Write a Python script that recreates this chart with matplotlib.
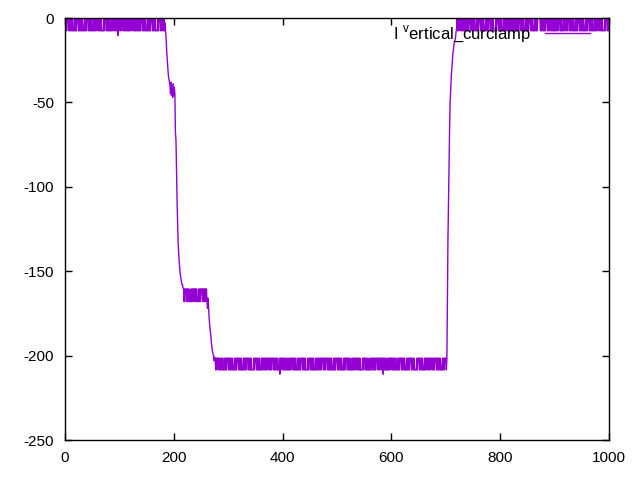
import numpy as np
import matplotlib
matplotlib.use("Agg")
import matplotlib.pyplot as plt

plt.rcParams['font.family'] = ['Liberation Sans', 'DejaVu Sans']
plt.rcParams['axes.unicode_minus'] = False

# ---- data ----
# noise patterns: each char is one sample, index into the level list
top_pattern = ("0101000101 0101011101 0100010101 0101110101 0001010101 "
               "1101010100 0101010111 1010001010 1011101010 0101010210 "
               "0101000101 0101011101 0100010101 0101110101 0001010101 "
               "1101010100 0101010111 1010001010 0101")
top_levels = [0.0, -7.6, -10.5]

drop1_values = [-3, -8, -13, -20, -25, -30, -34, -36, -38]
step_values = [-40, -45, -38, -46, -42, -47, -39, -46, -41, -45]
drop2_values = [-68, -72, -92, -108, -122, -133, -140, -145, -149, -152,
                -154, -156, -158, -158, -160]

mid_pattern = ("0100010101 0111010100 0101011101 0100010101 01012")
mid_levels = [-160.5, -168.0, -172.0]

drop3_values = [-166, -172, -178, -182, -185, -188, -192, -195, -197, -199,
                -200, -203, -201]

bottom_pattern = ("0101000101 0101011101 0100010101 0101110101 0001010101 "
                  "1101010100 0101010111 1010001010 1011101010 0101010001 "
                  "0101000101 0101011102 0100010101 0101110101 0001010101 "
                  "1101010100 0101010111 1010001010 1011101010 0101010001 "
                  "0101000101 0101011101 0100010101 0101110101 0001010101 "
                  "1101010100 0101010111 1010001010 1011101010 0101010001 "
                  "0100010102 0101011101 0100010101 0101110101 0001010101 "
                  "1101010100 0101010111 1010001010 1011101010 0101010001 "
                  "0101000101 0101011101 0100010")
bottom_levels = [-201.5, -208.5, -211.0]

rise_values = [-167, -130, -108, -85, -65, -50, -42, -35, -30, -25,
               -21, -19, -16, -14, -13, -11, -8, -6]

final_pattern = ("0101000101 0101011101 0100010101 0101110101 0001010101 "
                 "1101010100 0101010111 1010001010 1011101010 0101010001 "
                 "0101011101 0101000101 0101110101 0100010101 1101010100 "
                 "0001010101 1010001010 0101010111 0101010001 1011101010 "
                 "0101000101 0101011101 0100010101 0101110101 0001010101 "
                 "1101010100 0101010111 1010001010")
final_levels = [0.0, -7.6, -10.0]

legend_label = r"I $^\mathregular{v}$ertical_curclamp"
x_ticks = [0, 200, 400, 600, 800, 1000]
y_ticks = [0, -50, -100, -150, -200, -250]


def decode(pattern, lv):
    return [lv[int(c)] for c in pattern.replace(" ", "")]


y = (decode(top_pattern, top_levels) + drop1_values + step_values
     + drop2_values + decode(mid_pattern, mid_levels) + drop3_values
     + decode(bottom_pattern, bottom_levels) + rise_values
     + decode(final_pattern, final_levels))
x = np.arange(len(y))

# ---- figure ----
fig = plt.figure(figsize=(6.4, 4.8), dpi=100)
ax = fig.add_axes([65 / 640, 40 / 480, 544 / 640, 422 / 480])
color = '#9400D3'
ax.plot(x, y, color=color, lw=1.0)

ax.set_xlim(0, 1000)
ax.set_ylim(-250, 0)
ax.set_xticks(x_ticks)
ax.set_yticks(y_ticks)
ax.tick_params(direction='in', top=True, right=True, length=5, width=1,
               labelsize=11, pad=8)
for s in ax.spines.values():
    s.set_linewidth(1.0)

# gnuplot-style key
ax.text(0.857, 0.964, legend_label, transform=ax.transAxes, ha='right',
        va='center', fontsize=12)
ax.plot([0.882, 0.965], [0.964, 0.964], transform=ax.transAxes,
        color=color, lw=1.0, clip_on=False)

fig.savefig("out.png", dpi=100)
